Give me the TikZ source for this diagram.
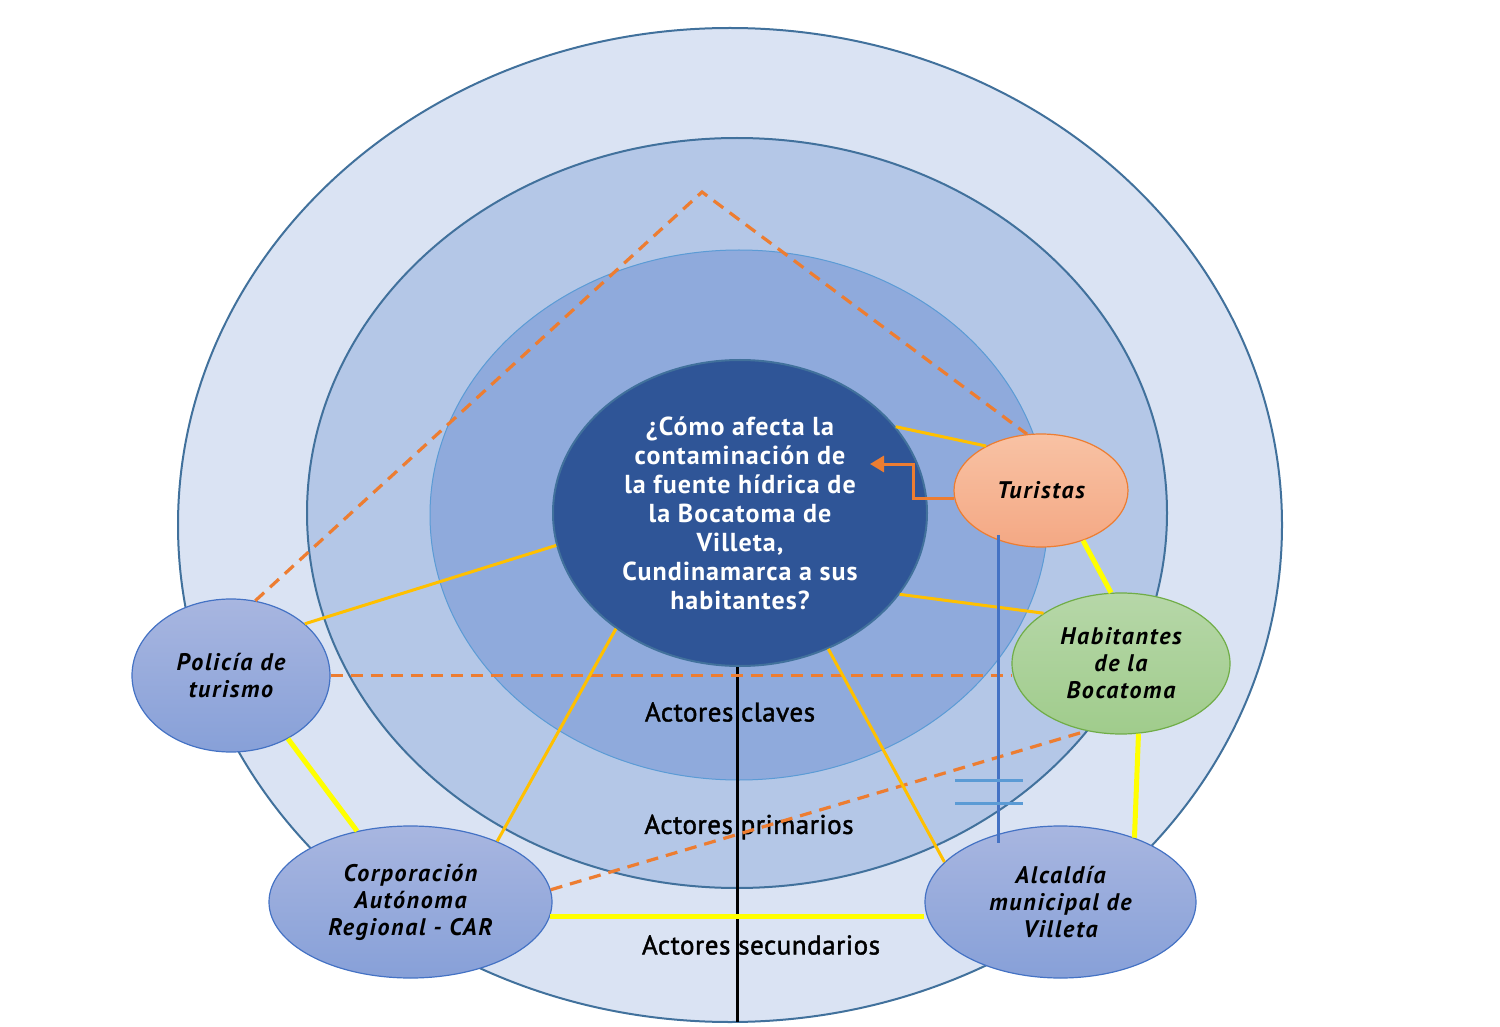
\documentclass[tikz,border=0pt]{standalone}
\usepackage{fontspec}
\setmainfont{PT Sans}
\usetikzlibrary{shapes.geometric,arrows.meta}
\definecolor{ringA}{HTML}{DAE3F3}
\definecolor{ringB}{HTML}{B4C7E7}
\definecolor{ringC}{HTML}{8FAADC}
\definecolor{core}{HTML}{2F5597}
\definecolor{edgeblue}{HTML}{41719C}
\definecolor{lightedge}{HTML}{5B9BD5}
\definecolor{gold}{HTML}{FFC000}
\definecolor{yel}{HTML}{FFFF00}
\definecolor{orng}{HTML}{ED7D31}
\definecolor{nodeblue}{HTML}{4472C4}
\definecolor{blueTop}{HTML}{A8B6E0}
\definecolor{blueBot}{HTML}{87A0D8}
\newfontfamily\levelfont[FakeBold=1.6,LetterSpace=2]{PT Sans}
\begin{document}
\begin{tikzpicture}[x=0.5pt,y=-0.5pt,
  ring/.style={ellipse,inner sep=0pt,line width=1pt},
  actor/.style={ellipse,inner sep=0pt,line width=0.6pt,align=center,
    font=\fontsize{12}{13.5}\selectfont\bfseries\itshape\addfontfeatures{LetterSpace=7}},
  bluenode/.style={actor,draw=nodeblue,top color=blueTop,bottom color=blueBot},
  level/.style={font=\levelfont\fontsize{13.5}{15}\selectfont,inner sep=0pt},
  keyline/.style={draw=gold,line width=1.5pt},
  linkline/.style={draw=yel,line width=2.5pt},
  dashline/.style={draw=orng,line width=1.6pt,dash pattern=on 6pt off 4pt},
]
\useasboundingbox (0,0) rectangle (1500,1027);
% rings
\node[ring,draw=edgeblue,fill=ringA,minimum width=552pt,minimum height=497pt] (r3) at (730,525) {};
\node[ring,draw=edgeblue,fill=ringB,minimum width=430pt,minimum height=375pt] (r2) at (737,513) {};
\node[ring,draw=lightedge,line width=0.5pt,fill=ringC,minimum width=309pt,minimum height=265pt] (r1) at (739,515) {};
\node[ring,draw=edgeblue,fill=core,minimum width=187pt,minimum height=153pt,
  text=white,align=center,font=\fontsize{13}{14.5}\selectfont\bfseries\addfontfeatures{LetterSpace=4}] (q) at (740,513)
  {¿Cómo afecta la\\contaminación de\\la fuente hídrica de\\la Bocatoma de\\Villeta,\\Cundinamarca a sus\\habitantes?};
% level labels
\node[level] (l1) at (730,712) {Actores claves};
\node[level] (l2) at (749,827) {Actores primarios};
\node[level] (l3) at (761,945) {Actores secundarios};
% actors
\node[actor,draw=orng,top color={rgb,255:red,248;green,194;blue,164},bottom color={rgb,255:red,244;green,168;blue,132},
  minimum width=87pt,minimum height=56.5pt] (tur) at (1041,490.5) {Turistas};
\node[actor,draw={rgb,255:red,112;green,173;blue,71},top color={rgb,255:red,182;green,215;blue,168},bottom color={rgb,255:red,160;green,204;blue,140},
  minimum width=109pt,minimum height=70.5pt] (hab) at (1121,663.5) {Habitantes\\de la\\Bocatoma};
\node[bluenode,minimum width=99pt,minimum height=76.5pt] (pol) at (231,675.5) {Policía de\\turismo};
\node[bluenode,minimum width=141.5pt,minimum height=76pt] (car) at (410.5,902) {Corporación\\Autónoma\\Regional - CAR};
\node[bluenode,minimum width=135.5pt,minimum height=76pt] (alc) at (1060.5,902) {Alcaldía\\municipal de\\Villeta};
% black axis
\coordinate (axbot) at (737,1022);
\draw[line width=1.5pt,black] (q.south -| axbot) -- (axbot);
% dashed orange relations
\coordinate (apex) at (702,192);
\draw[dashline] (pol.72) -- (apex) -- (tur.104);
\draw[dashline] (pol.east) -- (pol.east -| hab.west);
\draw[dashline] (car.5.6) -- (hab.243);
% key lines from the question
\draw[keyline] (q.29) -- (tur.141.5);
\draw[keyline] (q.190.6) -- (pol.35.7);
\draw[keyline] (q.223) -- (car.35);
\draw[keyline] (q.-57) -- (alc.161);
\draw[keyline] (q.-27.9) -- (hab.147.4);
% yellow links
\draw[linkline] (tur.-50) -- (hab.98);
\draw[linkline] (hab.-76) -- (alc.41);
\draw[linkline] (pol.-48) -- (car.127);
\draw[linkline] (car.-6.5) -- (car.-6.5 -| alc.west);
% orange arrow
\coordinate (tip) at (870,464);
\draw[orng,line width=1.5pt,-{Triangle[length=7pt,width=8pt]}] (tur.185) -- ++(-41,0) |- (tip);
% blue conflict line
\coordinate (btop) at (998,535);
\coordinate (bbot) at (998,843);
\draw[nodeblue,line width=1.5pt] (btop) -- (bbot);
\coordinate (c1a) at (955,780);
\coordinate (c1b) at (1023,780);
\coordinate (c2a) at (955,803);
\coordinate (c2b) at (1023,803);
\draw[lightedge,line width=1.5pt] (c1a) -- (c1b);
\draw[lightedge,line width=1.5pt] (c2a) -- (c2b);
\end{tikzpicture}
\end{document}
